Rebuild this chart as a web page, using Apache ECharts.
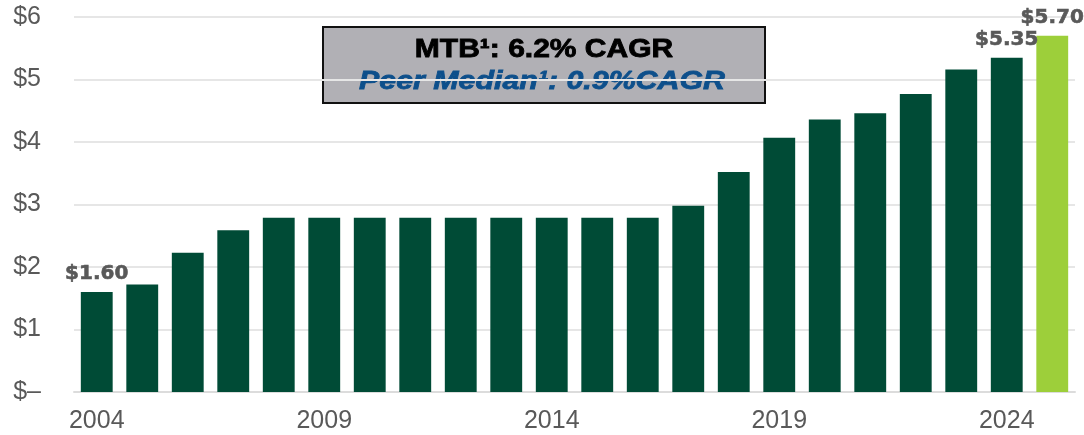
<!DOCTYPE html>
<html>
<head>
<meta charset="utf-8">
<script src="https://cdn.jsdelivr.net/npm/echarts@6/dist/echarts.min.js"></script>
<style>
  html, body { margin: 0; padding: 0; background: #fff; }
  #chart { width: 1084px; height: 435px; }
</style>
</head>
<body>
<div id="chart"></div>
<script>
// 年份与每股股息
const years = ['2004', '2005', '2006', '2007', '2008', '2009', '2010', '2011', '2012', '2013', '2014',
  '2015', '2016', '2017', '2018', '2019', '2020', '2021', '2022', '2023', '2024', '2025'];
const dividends = [1.60, 1.72, 2.23, 2.59, 2.79, 2.79, 2.79, 2.79, 2.79, 2.79, 2.79,
  2.79, 2.79, 2.98, 3.52, 4.07, 4.36, 4.46, 4.77, 5.16, 5.35, 5.70];
// 需要显示数值标签的年份
const labeledYears = ['2004', '2024', '2025'];
const highlightYear = '2025';
const yTicks = [0, 1, 2, 3, 4, 5, 6];

const darkGreen = '#004b36';
const lightGreen = '#9dcf3a';
const gray = '#595959';

const chart = echarts.init(document.getElementById('chart'));

const barData = dividends.map((v, i) => {
  const item = { value: v };
  if (years[i] === highlightYear) {
    item.itemStyle = { color: lightGreen };
  }
  if (labeledYears.indexOf(years[i]) >= 0) {
    item.label = { show: true };
  }
  return item;
});

const option = {
  animation: false,
  grid: { left: 74, right: 9, top: 17, bottom: 43 },
  xAxis: {
    type: 'category',
    data: years,
    axisTick: { show: false },
    axisLine: { lineStyle: { color: '#dcdcdc', width: 2 } },
    axisLabel: {
      interval: 4,
      margin: 17,
      color: gray,
      fontFamily: 'Liberation Sans',
      fontSize: 25
    }
  },
  yAxis: {
    type: 'value',
    min: yTicks[0],
    max: yTicks[yTicks.length - 1],
    interval: 1,
    axisLine: { show: false },
    axisTick: { show: false },
    splitLine: { lineStyle: { color: '#e6e6e6', width: 2 } },
    axisLabel: {
      margin: 33,
      color: gray,
      fontFamily: 'Liberation Sans',
      fontSize: 25,
      formatter: v => v === 0 ? '$\u2013' : '$' + v
    }
  },
  series: [{
    type: 'bar',
    data: barData,
    barCategoryGap: '30%',
    itemStyle: { color: darkGreen },
    label: {
      show: false,
      position: 'top',
      distance: 8,
      color: gray,
      fontFamily: 'DejaVu Sans',
      fontWeight: 'bold',
      fontSize: 20,
      textBorderColor: gray,
      textBorderWidth: 0.6,
      formatter: p => '$' + p.value.toFixed(2)
    }
  }],
  // CAGR 说明框
  graphic: [{
    type: 'group',
    left: 322,
    top: 26,
    children: [{
      type: 'rect',
      shape: { x: 0, y: 0, width: 442, height: 76 },
      style: { fill: '#b1b0b5', stroke: '#111', lineWidth: 2 }
    }, {
      type: 'text',
      x: 221,
      y: 23,
      scaleX: 1.2,
      style: {
        text: 'MTB\u00b9: 6.2% CAGR',
        fill: '#000',
        stroke: '#000',
        lineWidth: 0.8,
        font: 'bold 25px "Liberation Sans"',
        align: 'center',
        verticalAlign: 'middle'
      }
    }, {
      type: 'text',
      x: 219,
      y: 55,
      scaleX: 1.19,
      style: {
        text: 'Peer Median\u00b9: 0.9%CAGR',
        fill: '#0d4f8b',
        stroke: '#0d4f8b',
        lineWidth: 0.8,
        font: 'italic bold 25.5px "Liberation Sans"',
        align: 'center',
        verticalAlign: 'middle'
      }
    }]
  }]
};

chart.setOption(option);
</script>
</body>
</html>
